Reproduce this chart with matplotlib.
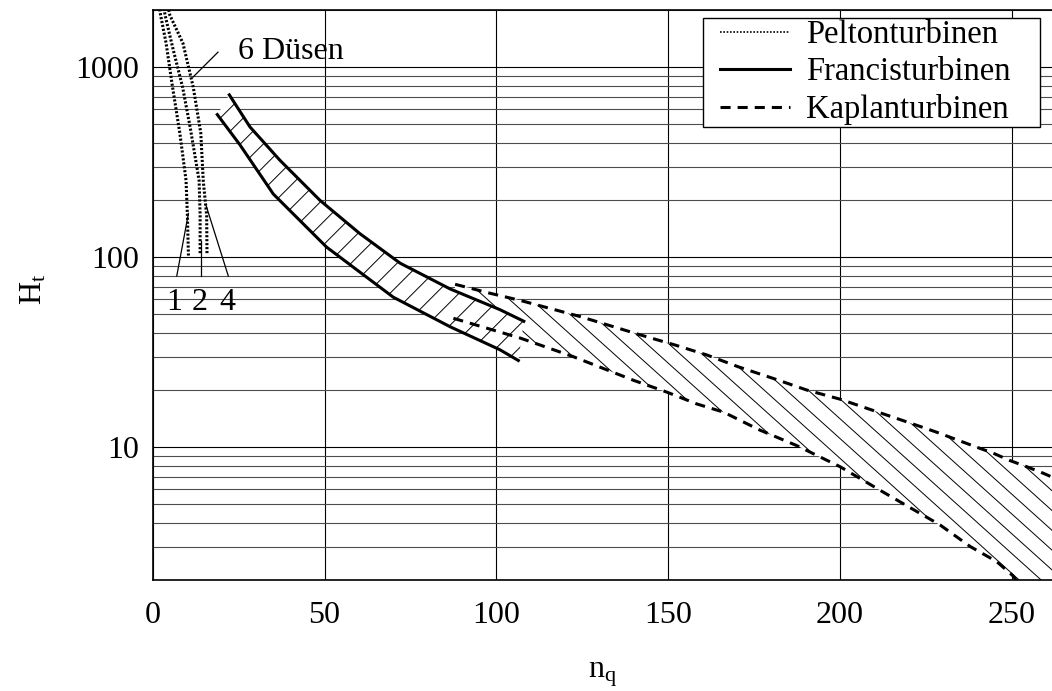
import numpy as np
import matplotlib
matplotlib.use("Agg")
import matplotlib.pyplot as plt
from matplotlib.patches import Polygon
from matplotlib.collections import LineCollection
from matplotlib.lines import Line2D
from matplotlib.legend_handler import HandlerLine2D
from matplotlib.transforms import IdentityTransform
from matplotlib.ticker import LogLocator, NullFormatter

plt.rcParams["font.family"] = ["Liberation Serif", "DejaVu Serif"]
plt.rcParams["mathtext.fontset"] = "custom"
plt.rcParams["mathtext.rm"] = "Liberation Serif"
plt.rcParams["mathtext.it"] = "Liberation Serif:italic"

FS = 23

# ── Data: specific speed n_q vs. head H_t ──
# Pelton turbines, 1 / 2 / 4 nozzles
pelton1_nq = [10.4, 10.1, 9.7, 7.9, 5.6, 3.9, 2.3, 1.9]
pelton1_h = [102, 166, 254, 449, 824, 1337, 1878, 2100]
pelton2_nq = [13.8, 13.8, 13.5, 10.9, 8.7, 6.0, 3.6, 3.2]
pelton2_h = [105, 166, 254, 483, 785, 1229, 1878, 2100]
pelton4_nq = [15.8, 15.7, 14.7, 14.0, 11.8, 8.8, 5.0, 4.4]
pelton4_h = [105, 166, 254, 449, 785, 1337, 1878, 2100]

# Francis turbines (band limits)
francis_up_nq = [22.3, 28.3, 37.0, 48.7, 60.3, 72.0, 86.6, 101.0, 108.0]
francis_up_h = [715, 485, 324, 199, 133, 93, 68, 53, 46]
francis_lo_nq = [18.8, 25.4, 35.1, 50.6, 70.0, 86.6, 101.0, 106.4]
francis_lo_h = [563, 390, 215, 113, 61.6, 43, 32.6, 28.6]

# Kaplan turbines (band limits)
kaplan_up_nq = [88.0, 98.0, 107.0, 124.4, 141.9, 152.0, 161.2, 170.4, 180.6,
                190.3, 200.0, 208.8, 219.4, 228.1, 239.8, 244.6, 249.5,
                254.3, 259.1, 263.0]
kaplan_up_h = [72, 64.7, 59.2, 48.7, 39, 34.5, 30.6, 26.5, 23.0,
               20.0, 17.9, 15.8, 13.6, 12.0, 10.0, 9.3, 8.5,
               7.9, 7.3, 6.8]
kaplan_lo_nq = [87.5, 107.0, 122.3, 139.9, 149.6, 158.3, 166.1, 176.7, 187.4,
                200.0, 212.6, 229.1, 237.9, 245.6, 250.4, 253.0]
kaplan_lo_h = [47.7, 37.5, 30.0, 22.5, 19.5, 16.9, 15.3, 12.3, 10.2,
               7.9, 5.8, 3.9, 3.0, 2.5, 2.1, 1.8]

x_ticks = [0, 50, 100, 150, 200, 250]
y_ticks = [10, 100, 1000]
y_ticklabels = ["10", "100", "1000"]

# ── Figure / axes ──
W, H = 1052, 691
fig = plt.figure(figsize=(W / 100, H / 100), dpi=100)
fig.patch.set_facecolor("white")
ax_l, ax_r, ax_t, ax_b = 152.7, 1052, 10, 580
ax = fig.add_axes([ax_l / W, 1 - ax_b / H, (ax_r - ax_l) / W, (ax_b - ax_t) / H])
ax.set_yscale("log")
ax.set_xlim(0, 261.7)
ax.set_ylim(2, 2000)
ax.set_axisbelow(True)

ax.set_xticks(x_ticks)
ax.set_xticklabels([str(v) for v in x_ticks], fontsize=FS)
ax.set_yticks(y_ticks)
ax.set_yticklabels(y_ticklabels, fontsize=FS)
ax.yaxis.set_minor_locator(LogLocator(base=10, subs=range(2, 10)))
ax.yaxis.set_minor_formatter(NullFormatter())
ax.tick_params(which="both", length=0)
ax.tick_params(axis="y", pad=10)
ax.tick_params(axis="x", pad=15)

ax.grid(True, which="major", color="black", lw=0.8)
ax.grid(True, which="minor", axis="y", color="0.3", lw=0.8)
for side in ["left", "bottom", "top"]:
    ax.spines[side].set_linewidth(1.2)
ax.spines["right"].set_visible(False)

ax.set_xlabel(r"$\mathregular{n_q}$", fontsize=FS)
ax.set_ylabel(r"$\mathregular{H_t}$", fontsize=FS)
ax.xaxis.set_label_coords(0.5, -0.165)
ax.xaxis.label.set_va("center")
ax.yaxis.set_label_coords(-0.132, 0.51)
ax.yaxis.label.set_va("center")


def hatch_band(xs, hs, slope, step, z):
    """White band with parallel hatch lines (slope/step in pixels)."""
    verts = np.column_stack([xs, hs])
    band = Polygon(verts, closed=True, facecolor="white", edgecolor="none",
                   zorder=z)
    ax.add_patch(band)
    pts = ax.transData.transform(verts)
    c = pts[:, 1] - slope * pts[:, 0]
    x0, x1 = pts[:, 0].min() - 5, pts[:, 0].max() + 5
    dc = abs(slope) * step
    segs = [[(x0, ci + slope * x0), (x1, ci + slope * x1)]
            for ci in np.arange(c.min() + dc / 2, c.max(), dc)]
    lc = LineCollection(segs, colors="black", linewidths=0.7,
                        transform=IdentityTransform(), zorder=z + 0.05)
    ax.add_collection(lc, autolim=False)
    lc.set_clip_path(band)


# Kaplan band (closed at the lower right corner)
kap_x = kaplan_up_nq + [kaplan_up_nq[-1]] + kaplan_lo_nq[::-1]
kap_h = kaplan_up_h + [kaplan_lo_h[-1]] + kaplan_lo_h[::-1]
hatch_band(kap_x, kap_h, slope=-0.9, step=22, z=1.0)

# Francis band
fr_x = francis_up_nq + francis_lo_nq[::-1]
fr_h = francis_up_h + francis_lo_h[::-1]
hatch_band(fr_x, fr_h, slope=1.0, step=23, z=1.2)

KAP_DASH = (0, (3.3, 2.3))
PEL_DOT = (0, (0.7, 0.6))

ax.plot(kaplan_up_nq, kaplan_up_h, color="black", lw=2.2, ls=KAP_DASH, zorder=2)
ax.plot(kaplan_lo_nq, kaplan_lo_h, color="black", lw=2.2, ls=KAP_DASH, zorder=2)
ax.plot(francis_up_nq, francis_up_h, color="black", lw=2.2, zorder=2.2)
ax.plot(francis_lo_nq, francis_lo_h, color="black", lw=2.2, zorder=2.2)
for xs, hs in [(pelton1_nq, pelton1_h), (pelton2_nq, pelton2_h),
               (pelton4_nq, pelton4_h)]:
    ax.plot(xs, hs, color="black", lw=2.2, ls=PEL_DOT, zorder=2.4)

# Nozzle labels with leader lines
ax.plot([19.0, 11.7], [1200, 886], color="black", lw=0.9, zorder=3)
ax.text(24.7, 1204, "6 Düsen", fontsize=FS, ha="left", va="center", zorder=3)
for lab, xt, (xa, xb), (ha_, hb) in [("1", 6.2, (7.0, 10.4), (79.6, 170)),
                                     ("2", 13.6, (14.0, 14.0), (79.6, 122)),
                                     ("4", 21.7, (22.0, 15.5), (79.6, 188))]:
    ax.plot([xa, xb], [ha_, hb], color="black", lw=0.9, zorder=3)
    ax.text(xt, 58, lab, fontsize=FS, ha="center", va="center", zorder=3)

# Legend, stretched to a fixed width inside the upper right corner
handles = [
    Line2D([], [], color="black", lw=1.2, ls=(0, (1, 1))),
    Line2D([], [], color="black", lw=2.2),
    Line2D([], [], color="black", lw=2.2, ls=KAP_DASH),
]
labels = ["Peltonturbinen", "Francisturbinen", "Kaplanturbinen"]
leg = ax.legend(handles, labels, loc="upper left",
                bbox_to_anchor=(0.612, 0.5, 0.375, 0.4854), mode="expand",
                borderaxespad=0, borderpad=0.05, handlelength=2.6,
                handletextpad=0.5, labelspacing=0.2, fontsize=FS + 0.5,
                handler_map={Line2D: HandlerLine2D(xpad=0.46)},
                fancybox=False, framealpha=1, edgecolor="black")
leg.get_frame().set_linewidth(1.0)
leg.set_zorder(5)

fig.savefig("out.png", dpi=100, facecolor="white")
